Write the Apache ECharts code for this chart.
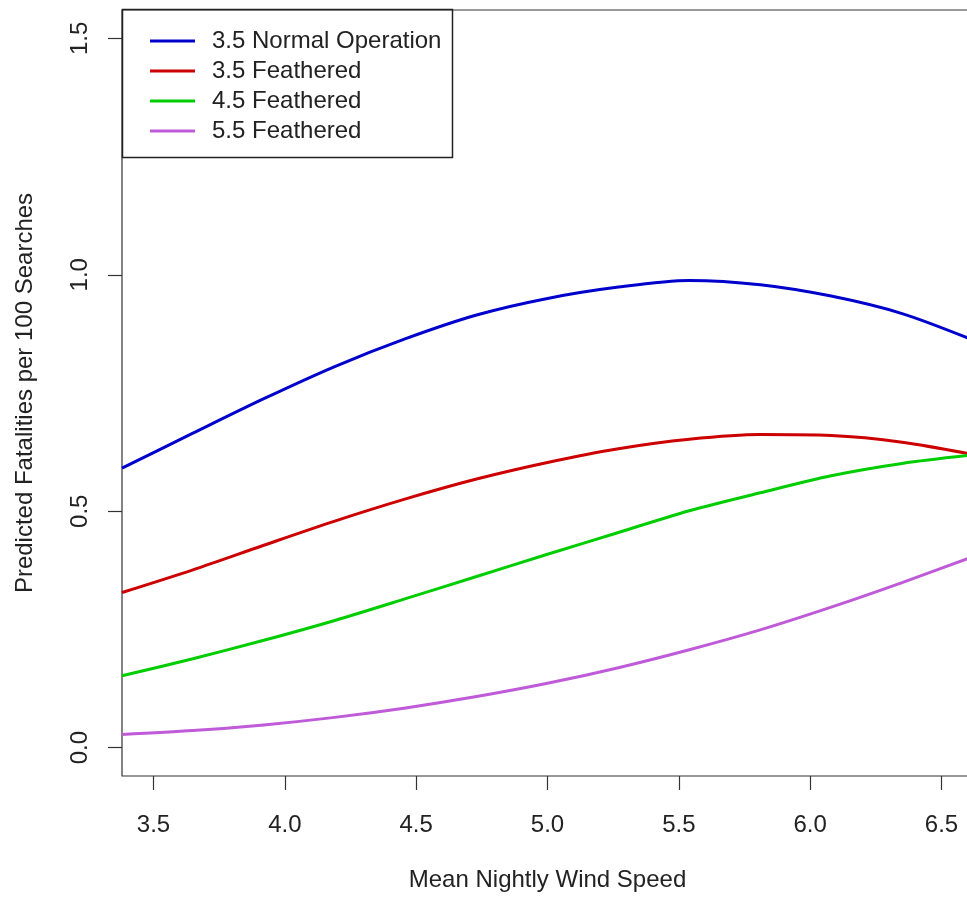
<!DOCTYPE html>
<html>
<head>
<meta charset="utf-8">
<title>Predicted Fatalities</title>
<script src="https://cdn.jsdelivr.net/npm/echarts@6/dist/echarts.min.js"></script>
<style>
    html, body { margin: 0; padding: 0; background: #fff; }
    #chart { width: 967px; height: 900px; }
</style>
</head>
<body>
<div id="chart"></div>
<script>
(function () {
    'use strict';

    // Mean nightly wind speed (x) and predicted fatalities per 100 searches
    var windSpeed = [3.38, 3.65, 3.92, 4.19, 4.46, 4.73, 5.00, 5.27, 5.54, 5.81, 6.08, 6.35, 6.62];
    var normal35 = [0.591, 0.665, 0.738, 0.806, 0.865, 0.915, 0.950, 0.974, 0.988, 0.979, 0.955, 0.918, 0.862];
    var feathered35 = [0.328, 0.376, 0.428, 0.479, 0.526, 0.568, 0.603, 0.632, 0.652, 0.662, 0.660, 0.646, 0.620];
    var feathered45 = [0.152, 0.188, 0.227, 0.269, 0.315, 0.362, 0.409, 0.455, 0.501, 0.539, 0.575, 0.601, 0.619];
    var feathered55 = [0.028, 0.036, 0.048, 0.064, 0.084, 0.108, 0.136, 0.169, 0.207, 0.249, 0.297, 0.349, 0.404];

    var seriesNames = ['3.5 Normal Operation', '3.5 Feathered', '4.5 Feathered', '5.5 Feathered'];
    var seriesData = [normal35, feathered35, feathered45, feathered55];
    var seriesColors = ['#0000cd', '#cd0000', '#00cd00', '#bf5ad8'];

    var xTicks = [3.5, 4.0, 4.5, 5.0, 5.5, 6.0, 6.5];
    var yTicks = [0.0, 0.5, 1.0, 1.5];

    var FONT = '"Liberation Sans", Arial, sans-serif';
    var INK = '#222';

    function pairs(ys) {
        return windSpeed.map(function (x, i) { return [x, ys[i]]; });
    }

    var chart = echarts.init(document.getElementById('chart'), null, { renderer: 'canvas' });

    chart.setOption({
        animation: false,
        backgroundColor: '#fff',
        textStyle: { fontFamily: FONT },
        grid: {
            left: 122, top: 10, width: 851, height: 766,
            show: true, borderColor: '#333', borderWidth: 1.2,
            outerBoundsMode: 'none'
        },
        legend: {
            orient: 'vertical',
            left: 145, top: 24,
            itemWidth: 45, itemHeight: 3,
            itemGap: 6,
            icon: 'rect',
            selectedMode: false,
            textStyle: { fontFamily: FONT, fontSize: 24, color: INK, padding: [0, 0, 0, 12] },
            data: seriesNames
        },
        graphic: [{
            type: 'rect',
            shape: { x: 122.5, y: 9.5, width: 330, height: 148 },
            style: { fill: 'rgba(0,0,0,0)', stroke: '#222', lineWidth: 1.5 },
            z: 10
        }],
        xAxis: {
            type: 'value',
            min: 3.38, max: 6.62,
            name: 'Mean Nightly Wind Speed',
            nameLocation: 'middle',
            nameGap: 92,
            nameTextStyle: { fontFamily: FONT, fontSize: 24, color: INK },
            axisLine: { show: false, onZero: false },
            splitLine: { show: false },
            axisTick: { show: true, length: 14, lineStyle: { color: '#333', width: 1.2 }, customValues: xTicks },
            axisLabel: {
                fontFamily: FONT, fontSize: 24, color: INK, margin: 37,
                customValues: xTicks,
                formatter: function (v) { return v.toFixed(1); }
            }
        },
        yAxis: {
            type: 'value',
            min: -0.06, max: 1.56,
            name: 'Predicted Fatalities per 100 Searches',
            nameLocation: 'middle',
            nameGap: 85,
            nameTextStyle: { fontFamily: FONT, fontSize: 24, color: INK },
            axisLine: { show: false, onZero: false },
            splitLine: { show: false },
            axisTick: { show: true, length: 14, lineStyle: { color: '#333', width: 1.2 }, customValues: yTicks },
            axisLabel: {
                fontFamily: FONT, fontSize: 24, color: INK, margin: 30, rotate: 90,
                customValues: yTicks,
                formatter: function (v) { return v.toFixed(1); }
            }
        },
        series: seriesNames.map(function (name, i) {
            return {
                name: name,
                type: 'line',
                data: pairs(seriesData[i]),
                smooth: 0.3,
                showSymbol: false,
                symbol: 'none',
                clip: true,
                color: seriesColors[i],
                lineStyle: { width: 3, color: seriesColors[i] }
            };
        })
    });
})();
</script>
</body>
</html>
